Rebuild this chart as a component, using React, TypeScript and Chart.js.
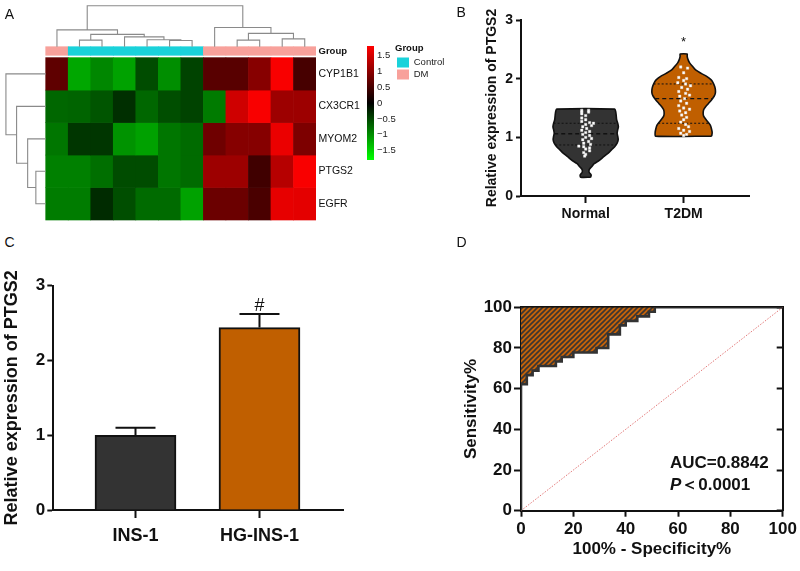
import React, { useEffect, useRef } from 'react';
import { Chart, registerables } from 'chart.js';

Chart.register(...registerables);
const FONT = "'Liberation Sans', Arial, Helvetica, sans-serif";
Chart.defaults.font.family = FONT;
Chart.defaults.color = '#1a1a1a';

/* ---------------- Panel A: heatmap data ---------------- */
const genes = ['CYP1B1', 'CX3CR1', 'MYOM2', 'PTGS2', 'EGFR'];
const sampleGroups = ['DM', 'Control', 'Control', 'Control', 'Control', 'Control', 'Control', 'DM', 'DM', 'DM', 'DM', 'DM'];
const groupNames = ['Control', 'DM'];
const CYP1B1 = [0.67, -1.17, -0.95, -1.14, -0.53, -1.0, -0.47, 0.62, 0.62, 0.95, 1.75, 0.5];
const CX3CR1 = [-0.72, -0.7, -0.6, -0.33, -0.72, -0.55, -0.47, -0.86, 1.45, 1.75, 1.1, 1.1];
const MYOM2 = [-0.83, -0.38, -0.38, -1.03, -1.13, -0.83, -0.75, 0.78, 0.94, 0.94, 1.65, 0.88];
const PTGS2 = [-0.9, -0.9, -0.78, -0.53, -0.53, -0.83, -0.75, 1.1, 1.1, 0.45, 1.28, 1.75];
const EGFR = [-0.87, -0.87, -0.3, -0.55, -0.75, -0.75, -1.14, 0.75, 0.75, 0.52, 1.62, 1.6];
const heatRows = [CYP1B1, CX3CR1, MYOM2, PTGS2, EGFR];
const colorTicks = [-1.5, -1, -0.5, 0, 0.5, 1, 1.5];
const colorLimit = 1.79;
// [childA, childB, height]; leaves first, merged nodes numbered after them
const colLinkage = [
  [5, 6, 1.5], [4, 12, 1.7], [3, 13, 2.4], [1, 2, 1.6], [15, 14, 3.0], [0, 16, 4.1],
  [8, 9, 1.6], [10, 11, 1.9], [18, 19, 3.25], [7, 20, 4.7], [17, 21, 10],
];
const rowLinkage = [[3, 4, 2.4], [2, 5, 4.4], [1, 6, 7.1], [0, 7, 9.7]];

/* ---------------- Panel B: violin data ---------------- */
const violinGroups = ['Normal', 'T2DM'];
const normalLevels = [0.32, 0.36, 0.4, 0.45, 0.5, 0.55, 0.61, 0.67, 0.73, 0.79, 0.84, 0.9, 0.96, 1.02, 1.07, 1.13, 1.18, 1.24, 1.3, 1.38, 1.44, 1.48];
const normalHalf = [0.051, 0.056, 0.036, 0.036, 0.061, 0.087, 0.143, 0.184, 0.23, 0.265, 0.296, 0.321, 0.332, 0.327, 0.321, 0.327, 0.334, 0.327, 0.316, 0.311, 0.306, 0.296];
const t2dmLevels = [1.02, 1.08, 1.13, 1.21, 1.3, 1.36, 1.41, 1.47, 1.52, 1.58, 1.64, 1.7, 1.75, 1.81, 1.87, 1.93, 1.98, 2.04, 2.09, 2.15, 2.21, 2.27, 2.32, 2.38, 2.42];
const t2dmHalf = [0.286, 0.291, 0.286, 0.272, 0.23, 0.204, 0.199, 0.204, 0.224, 0.255, 0.286, 0.311, 0.323, 0.324, 0.316, 0.301, 0.281, 0.235, 0.179, 0.122, 0.09, 0.061, 0.046, 0.036, 0.036];
const normalPoints = [1.46, 1.46, 1.43, 1.43, 1.4, 1.37, 1.33, 1.3, 1.27, 1.25, 1.24, 1.22, 1.2, 1.18, 1.15, 1.12, 1.1, 1.08, 1.05, 1.03, 1.0, 0.98, 0.96, 0.93, 0.9, 0.88, 0.85, 0.84, 0.82, 0.8, 0.77, 0.74, 0.71, 0.68];
const normalJitter = [-0.04, 0.03, -0.04, 0.03, -0.04, 0.0, -0.04, 0.0, -0.04, 0.04, 0.08, 0.0, 0.06, -0.03, 0.01, -0.04, 0.04, 0.0, -0.03, 0.04, 0.0, 0.06, -0.03, 0.03, -0.02, 0.05, -0.07, -0.02, 0.04, 0.0, 0.04, -0.02, 0.0, -0.01];
const t2dmPoints = [2.2, 2.18, 2.1, 2.02, 2.0, 1.97, 1.93, 1.91, 1.88, 1.85, 1.82, 1.78, 1.75, 1.72, 1.7, 1.66, 1.62, 1.58, 1.54, 1.5, 1.48, 1.45, 1.42, 1.38, 1.34, 1.3, 1.26, 1.22, 1.18, 1.15, 1.12, 1.1, 1.07, 1.05, 1.03];
const t2dmJitter = [-0.03, 0.04, 0.0, -0.05, 0.03, 0.0, -0.06, 0.02, 0.07, -0.02, 0.04, -0.05, 0.02, 0.06, -0.04, 0.01, -0.03, 0.03, -0.05, 0.0, 0.06, -0.04, 0.02, -0.02, 0.03, 0.0, -0.03, 0.02, 0.05, -0.05, 0.0, 0.06, -0.03, 0.03, 0.0];
const normalQuartiles = [0.87, 1.06, 1.24];
const normalQuartHalf = [0.311, 0.321, 0.327];
const t2dmQuartiles = [1.24, 1.66, 1.91];
const t2dmQuartHalf = [0.26, 0.29, 0.306];

/* ---------------- Panel C: bar data ---------------- */
const cellLines = ['INS-1', 'HG-INS-1'];
const ptgs2Mean = [1.0, 2.44];
const ptgs2Sd = [0.1, 0.18];

/* ---------------- Panel D: ROC data ---------------- */
const rocFpr = [0, 0, 2.22, 4.44, 6.67, 13.33, 15.56, 20, 28.89, 33.33, 37.78, 40, 44.44, 48.89, 51.11, 55.56, 100];
const rocTpr = [0, 60, 62.22, 66.67, 68.89, 71.11, 73.33, 75.56, 77.78, 80, 86.67, 91.11, 93.33, 95.56, 97.78, 100, 100];
const aucLabel = 'AUC=0.8842';
const pLabel = ['P', '＜0.0001'];

/* ---------------- styling ---------------- */
const DARK = '#333333';
const ORANGE = '#c05f00';
const INK = '#111111';
const groupColors = ['#1ad2da', '#f8a19b'];

type Box = { left: number; top: number; width: number; height: number };

const fitTo = (w?: number, h?: number) => (s: any) => {
  if (w !== undefined) s.width = w;
  if (h !== undefined) s.height = h;
  s.paddingTop = 0; s.paddingBottom = 0; s.paddingLeft = 0; s.paddingRight = 0;
};

function heatColor(v: number) {
  const t = Math.min(Math.abs(v) / colorLimit, 1);
  const c = Math.round(255 * t);
  return v >= 0 ? `rgb(${c},0,0)` : `rgb(0,${c},0)`;
}

function dendro(linkage: number[][], nLeaves: number, leafPos: (i: number) => number, base: number, toPos: (h: number) => number) {
  const pos: number[] = [];
  const hgt: number[] = [];
  for (let i = 0; i < nLeaves; i++) { pos.push(leafPos(i)); hgt.push(base); }
  const pts: number[][] = [];
  linkage.forEach(([a, b, h]) => {
    const hp = toPos(h);
    pts.push([pos[a], hgt[a]], [pos[a], hp], [pos[b], hp], [pos[b], hgt[b]], [NaN, NaN]);
    pos.push((pos[a] + pos[b]) / 2);
    hgt.push(hp);
  });
  return pts;
}

type TextPart = { text: string; font: string };
type TextMark = { x: number; y: number; parts: TextPart[]; align?: string };
function textPlugin(marks: TextMark[]) {
  return {
    id: 'textMarks',
    afterDatasetsDraw(chart: any) {
      const { ctx, scales } = chart;
      ctx.save();
      ctx.fillStyle = INK;
      ctx.textBaseline = 'middle';
      ctx.textAlign = 'left';
      for (const m of marks) {
        let x = scales.x.getPixelForValue(m.x);
        const y = scales.y.getPixelForValue(m.y);
        const widths = m.parts.map((p) => { ctx.font = p.font; return ctx.measureText(p.text).width; });
        const total = widths.reduce((a, b) => a + b, 0);
        if (m.align === 'center') x -= total / 2;
        m.parts.forEach((p, i) => { ctx.font = p.font; ctx.fillText(p.text, x, y); x += widths[i]; });
      }
      ctx.restore();
    },
  };
}

const errorBarPlugin = {
  id: 'errorBars',
  afterDatasetsDraw(chart: any) {
    const { ctx } = chart;
    chart.data.datasets.forEach((ds: any, di: number) => {
      if (!ds.errorPlus) return;
      const meta = chart.getDatasetMeta(di);
      const ys = chart.scales.y;
      meta.data.forEach((el: any, i: number) => {
        const v = ds.data[i].y;
        const y0 = ys.getPixelForValue(v);
        const y1 = ys.getPixelForValue(v + ds.errorPlus[i]);
        ctx.save();
        ctx.strokeStyle = INK;
        ctx.lineWidth = 2;
        ctx.beginPath();
        ctx.moveTo(el.x, y0); ctx.lineTo(el.x, y1);
        ctx.moveTo(el.x - 20, y1); ctx.lineTo(el.x + 20, y1);
        ctx.stroke();
        ctx.restore();
      });
    });
  },
};

function hatchPattern() {
  const c = document.createElement('canvas');
  c.width = 5; c.height = 5;
  const g = c.getContext('2d')!;
  g.fillStyle = '#c4630b';
  g.fillRect(0, 0, 5, 5);
  g.strokeStyle = '#3a3532';
  g.lineWidth = 1.6;
  g.beginPath();
  g.moveTo(0, 5); g.lineTo(5, 0);
  g.moveTo(-1, 1); g.lineTo(1, -1);
  g.moveTo(4, 6); g.lineTo(6, 4);
  g.stroke();
  return g.createPattern(c, 'repeat');
}

const baseOpts = { responsive: false, maintainAspectRatio: false, animation: false, events: [] as string[] };
const noPlugins = { legend: { display: false }, tooltip: { enabled: false } };

/* ---------------- Panel A charts ---------------- */
const HEAT_BOX: Box = { left: 0, top: 0, width: 391, height: 225 };
const CELL_W = 22.53, CELL_H = 32.47, HM_LEFT = 45.7, HM_BOTTOM = 220, HM_RIGHT = 316, DIST_PX = 4.1;
const GROUP_BAR = [(HM_BOTTOM - 55.3) / CELL_H, (HM_BOTTOM - 46.7) / CELL_H];

function makeHeatmap() {
  const nCols = sampleGroups.length;
  const nRows = genes.length;
  const cellSets = heatRows.map((row, r) => ({
    type: 'bar', label: genes[r],
    data: row.map((_v, c) => ({ x: c + 0.5, y: [nRows - 1 - r, nRows - r] })),
    backgroundColor: row.map(heatColor),
    borderWidth: 0, grouped: false, barPercentage: 1, categoryPercentage: 1, order: 3,
  }));
  const groupSet = {
    type: 'bar', label: 'Group',
    data: sampleGroups.map((_g, c) => ({ x: c + 0.5, y: [GROUP_BAR[0], GROUP_BAR[1]] })),
    backgroundColor: sampleGroups.map((g) => groupColors[groupNames.indexOf(g)]),
    borderWidth: 0, grouped: false, barPercentage: 1, categoryPercentage: 1, order: 3,
  };
  const colBase = GROUP_BAR[1];
  const colPts = dendro(colLinkage, nCols, (i) => i + 0.5, colBase, (h) => colBase + (h * DIST_PX) / CELL_H).map(([p, q]) => ({ x: p, y: q }));
  const rowPts = dendro(rowLinkage, nRows, (i) => nRows - 0.5 - i, 0, (h) => -(h * DIST_PX) / CELL_W).map(([p, q]) => ({ x: q, y: p }));
  const lineStyle = { type: 'line', borderColor: '#8a8a8a', borderWidth: 1.1, pointRadius: 0, fill: false, tension: 0, spanGaps: false, order: 1 };
  const tickValues = [...genes.map((_g, r) => nRows - 0.5 - r).reverse(), (GROUP_BAR[0] + GROUP_BAR[1]) / 2];
  const tickLabels = [...genes.slice().reverse(), 'Group'];
  return {
    type: 'bar',
    data: { datasets: [...cellSets, groupSet, { ...lineStyle, label: 'cols', data: colPts }, { ...lineStyle, label: 'rows', data: rowPts }] },
    options: {
      ...baseOpts,
      layout: { padding: 0 },
      plugins: noPlugins,
      scales: {
        x: {
          type: 'linear', display: false, offset: false, grid: { offset: false },
          min: -HM_LEFT / CELL_W, max: nCols,
          afterBuildTicks: (s: any) => { s.ticks = Array.from({ length: nCols + 1 }, (_x, i) => ({ value: i })); },
        },
        y: {
          type: 'linear', position: 'right',
          min: -(HEAT_BOX.height - HM_BOTTOM) / CELL_H, max: HM_BOTTOM / CELL_H,
          afterBuildTicks: (s: any) => { s.ticks = tickValues.map((v) => ({ value: v })); },
          ticks: {
            autoSkip: false, padding: 2.5, color: INK,
            callback: (_v: any, i: number) => tickLabels[i],
            font: (ctx: any) => (ctx.index === nRows ? { size: 9.5, weight: 'bold' } : { size: 10.5 }),
          },
          grid: { display: false, drawTicks: false },
          border: { display: false },
          afterFit: fitTo(HEAT_BOX.width - HM_RIGHT),
        },
      },
    },
  };
}

const CBAR_BOX: Box = { left: 367, top: 46, width: 37, height: 114 };
function makeColorBar() {
  return {
    type: 'bar',
    data: {
      labels: [''],
      datasets: [{
        data: [[-colorLimit, colorLimit]],
        backgroundColor: (c: any) => {
          const a = c.chart.chartArea;
          if (!a) return '#000';
          const g = c.chart.ctx.createLinearGradient(0, a.bottom, 0, a.top);
          g.addColorStop(0, heatColor(-colorLimit));
          g.addColorStop(0.5, heatColor(0));
          g.addColorStop(1, heatColor(colorLimit));
          return g;
        },
        borderWidth: 0, barPercentage: 1, categoryPercentage: 1,
      }],
    },
    options: {
      ...baseOpts,
      layout: { padding: 0 },
      plugins: noPlugins,
      scales: {
        x: { display: false },
        y: {
          position: 'right', min: -colorLimit, max: colorLimit,
          afterBuildTicks: (s: any) => { s.ticks = colorTicks.map((v) => ({ value: v })); },
          ticks: { autoSkip: false, padding: 3, color: '#222', font: { size: 9.5 }, callback: (v: number) => (v < 0 ? '\u2212' + Math.abs(v) : String(v)) },
          grid: { display: false, drawTicks: false },
          border: { display: false },
          afterFit: fitTo(30),
        },
      },
    },
  };
}

const LEGEND_BOX: Box = { left: 394.7, top: 43.3, width: 150, height: 42 };
function makeLegend() {
  return {
    type: 'bar',
    data: { labels: [], datasets: groupNames.map((g, i) => ({ label: g, data: [], backgroundColor: groupColors[i], borderWidth: 0 })) },
    options: {
      ...baseOpts,
      layout: { padding: 0 },
      scales: { x: { display: false }, y: { display: false } },
      plugins: {
        tooltip: { enabled: false },
        legend: {
          display: true, position: 'left', align: 'start',
          title: { display: true, text: 'Group', color: INK, font: { size: 9.5, weight: 'bold' }, padding: { top: 1, bottom: 0 }, position: 'start' },
          labels: { boxWidth: 12, boxHeight: 10, padding: 2, color: '#222', font: { size: 9.5 } },
        },
      },
    },
  };
}

/* ---------------- Panel B: violin ---------------- */
const VIOLIN_BOX: Box = { left: 440, top: 0, width: 360, height: 240 };
function violinOutline(center: number, levels: number[], half: number[]) {
  const right = levels.map((v, i) => ({ x: center + half[i], y: v }));
  const left = levels.map((v, i) => ({ x: center - half[i], y: v })).reverse();
  return [...right, ...left, right[0]];
}
function quartLine(center: number, vals: number[], half: number[], idx: number[]) {
  const pts: any[] = [];
  idx.forEach((k) => { pts.push({ x: center - half[k], y: vals[k] }, { x: center + half[k], y: vals[k] }, { x: NaN, y: NaN }); });
  return pts;
}
function makeViolin() {
  const axisCommon = {
    grid: { drawOnChartArea: false, drawTicks: true, tickColor: INK, tickWidth: 2 },
    border: { display: true, color: INK, width: 2 },
  };
  const pts = [
    ...normalPoints.map((v, i) => ({ x: 1 + normalJitter[i], y: v })),
    ...t2dmPoints.map((v, i) => ({ x: 2 + t2dmJitter[i], y: v })),
  ];
  const dashed = { borderColor: INK, pointRadius: 0, fill: false, tension: 0, spanGaps: false, order: 1 };
  return {
    type: 'line',
    data: {
      datasets: [
        { label: 'points', data: pts, showLine: false, pointStyle: 'rect', pointRadius: 1.7, backgroundColor: '#ffffff', borderColor: '#e8e8e8', borderWidth: 0.4, order: 0 },
        { ...dashed, label: 'median', data: [...quartLine(1, normalQuartiles, normalQuartHalf, [1]), ...quartLine(2, t2dmQuartiles, t2dmQuartHalf, [1])], borderWidth: 1.4, borderDash: [4, 3] },
        { ...dashed, label: 'quartiles', data: [...quartLine(1, normalQuartiles, normalQuartHalf, [0, 2]), ...quartLine(2, t2dmQuartiles, t2dmQuartHalf, [0, 2])], borderWidth: 1, borderDash: [2, 2] },
        { label: violinGroups[0], data: violinOutline(1, normalLevels, normalHalf), fill: 'shape', backgroundColor: DARK, borderColor: INK, borderWidth: 1.6, pointRadius: 0, tension: 0.25, order: 2 },
        { label: violinGroups[1], data: violinOutline(2, t2dmLevels, t2dmHalf), fill: 'shape', backgroundColor: ORANGE, borderColor: INK, borderWidth: 1.6, pointRadius: 0, tension: 0.25, order: 2 },
      ],
    },
    options: {
      ...baseOpts,
      layout: { padding: { left: 43.3, top: 20, right: 50.7, bottom: 0 } },
      plugins: noPlugins,
      scales: {
        x: {
          ...axisCommon, type: 'linear', min: 0.34, max: 2.67,
          grid: { ...axisCommon.grid, tickLength: 7 },
          afterBuildTicks: (s: any) => { s.ticks = violinGroups.map((_g, i) => ({ value: i + 1 })); },
          ticks: { autoSkip: false, maxRotation: 0, padding: 3, color: INK, font: { size: 14, weight: 'bold' }, callback: (v: number) => violinGroups[Math.round(v) - 1] },
          afterFit: fitTo(undefined, 44),
        },
        y: {
          ...axisCommon, type: 'linear', min: 0, max: 3,
          grid: { ...axisCommon.grid, tickLength: 5 },
          ticks: { stepSize: 1, padding: 3, color: INK, font: { size: 14, weight: 'bold' } },
          title: { display: true, text: 'Relative expression of PTGS2', color: INK, font: { size: 14, weight: 'bold' }, padding: 0 },
          afterFit: fitTo(37.7),
        },
      },
    },
    plugins: [textPlugin([{ x: 2, y: 2.62, align: 'center', parts: [{ text: '*', font: `13px ${FONT}` }] }])],
  };
}

/* ---------------- Panel C: bars ---------------- */
const BAR_BOX: Box = { left: 0, top: 265, width: 400, height: 306 };
function makeBars() {
  const axisCommon = {
    grid: { drawOnChartArea: false, drawTicks: true, tickColor: INK, tickWidth: 2 },
    border: { display: true, color: INK, width: 2 },
  };
  return {
    type: 'bar',
    data: {
      datasets: [{
        label: 'PTGS2',
        data: ptgs2Mean.map((v, i) => ({ x: i + 1, y: v })),
        errorPlus: ptgs2Sd,
        backgroundColor: [DARK, ORANGE],
        borderColor: INK, borderWidth: 2, barThickness: 81,
      }],
    },
    options: {
      ...baseOpts,
      layout: { padding: { left: 1.2, top: 20.7, right: 56.7, bottom: 0 } },
      plugins: noPlugins,
      scales: {
        x: {
          ...axisCommon, type: 'linear', min: 0.337, max: 2.676, offset: false,
          grid: { ...axisCommon.grid, tickLength: 8, offset: false },
          afterBuildTicks: (s: any) => { s.ticks = cellLines.map((_g, i) => ({ value: i + 1 })); },
          ticks: { autoSkip: false, maxRotation: 0, padding: 7, color: INK, font: { size: 18, weight: 'bold' }, callback: (v: number) => cellLines[Math.round(v) - 1] },
          afterFit: fitTo(undefined, 61),
        },
        y: {
          ...axisCommon, type: 'linear', min: 0, max: 3,
          grid: { ...axisCommon.grid, tickLength: 6 },
          ticks: { stepSize: 1, padding: 2, color: INK, font: { size: 17, weight: 'bold' } },
          title: { display: true, text: 'Relative expression of PTGS2', color: INK, font: { size: 18, weight: 'bold' }, padding: 0 },
          afterFit: fitTo(52.1),
        },
      },
    },
    plugins: [errorBarPlugin, textPlugin([{ x: 2, y: 2.73, align: 'center', parts: [{ text: '#', font: `18px ${FONT}` }] }])],
  };
}

/* ---------------- Panel D: ROC ---------------- */
const ROC_BOX: Box = { left: 440, top: 280, width: 360, height: 291 };
function makeRoc() {
  const axisCommon = {
    grid: { drawOnChartArea: false, drawTicks: true, tickColor: INK, tickWidth: 2 },
    border: { display: true, color: INK, width: 2 },
  };
  const bold17 = `bold 17px ${FONT}`;
  return {
    type: 'line',
    data: {
      datasets: [
        {
          label: 'ROC', data: rocFpr.map((x, i) => ({ x, y: rocTpr[i] })), stepped: 'after',
          borderColor: DARK, borderWidth: 2.6, pointRadius: 0, fill: 'end', backgroundColor: hatchPattern(), order: 1,
        },
        {
          label: 'ref', data: [{ x: 0, y: 0 }, { x: 100, y: 100 }], borderColor: '#e27878', borderWidth: 1,
          borderDash: [1.5, 1.5], pointRadius: 0, fill: false, order: 2,
        },
      ],
    },
    options: {
      ...baseOpts,
      layout: { padding: { left: 21.5, top: 27.3, right: 17.3, bottom: 11.8 } },
      plugins: noPlugins,
      scales: {
        x: {
          ...axisCommon, type: 'linear', min: 0, max: 100,
          grid: { ...axisCommon.grid, tickLength: 6 },
          ticks: { stepSize: 20, padding: 2, maxRotation: 0, color: INK, font: { size: 17, weight: 'bold' } },
          title: { display: true, text: '100% - Specificity%', color: INK, font: { size: 17, weight: 'bold' }, padding: 0 },
          afterFit: fitTo(undefined, 48.5),
        },
        y: {
          ...axisCommon, type: 'linear', min: 0, max: 100,
          grid: { ...axisCommon.grid, tickLength: 7 },
          ticks: { stepSize: 20, padding: 2, color: INK, font: { size: 17, weight: 'bold' } },
          title: { display: true, text: 'Sensitivity%', color: INK, font: { size: 17, weight: 'bold' }, padding: 0 },
          afterFit: fitTo(59.5),
        },
        x2: {
          type: 'linear', position: 'top', min: 0, max: 100,
          ticks: { display: false }, grid: { display: false, drawTicks: false },
          border: { display: true, color: INK, width: 2 },
          afterFit: fitTo(undefined, 0),
        },
        y2: {
          type: 'linear', position: 'right', min: 0, max: 100,
          ticks: { display: false, stepSize: 20 },
          grid: { display: true, drawOnChartArea: false, drawTicks: true, tickLength: -6, tickColor: INK, tickWidth: 2 },
          border: { display: true, color: INK, width: 2 },
          afterFit: fitTo(0),
        },
      },
    },
    plugins: [textPlugin([
      { x: 56.9, y: 23.3, parts: [{ text: aucLabel, font: bold17 }] },
      { x: 56.9, y: 12.6, parts: [{ text: pLabel[0], font: `italic ${bold17}` }, { text: pLabel[1], font: bold17 }] },
    ])],
  };
}

/* ---------------- React ---------------- */
function ChartCanvas({ box, make }: { box: Box; make: () => any }) {
  const ref = useRef<HTMLCanvasElement>(null);
  useEffect(() => {
    const chart = new Chart(ref.current as HTMLCanvasElement, make());
    return () => chart.destroy();
  }, []);
  return (
    <canvas
      ref={ref}
      width={box.width}
      height={box.height}
      style={{ position: 'absolute', left: box.left, top: box.top, width: box.width, height: box.height }}
    />
  );
}

const panelLetters = [
  { t: 'A', x: 4.8, y: 6.5 },
  { t: 'B', x: 456.5, y: 4.9 },
  { t: 'C', x: 4.5, y: 235 },
  { t: 'D', x: 456.5, y: 235 },
];

export default function App() {
  return (
    <div style={{ position: 'absolute', left: 0, top: 0, width: 800, height: 571, background: '#ffffff', overflow: 'hidden', fontFamily: FONT }}>
      <ChartCanvas box={HEAT_BOX} make={makeHeatmap} />
      <ChartCanvas box={CBAR_BOX} make={makeColorBar} />
      <ChartCanvas box={VIOLIN_BOX} make={makeViolin} />
      <ChartCanvas box={BAR_BOX} make={makeBars} />
      <ChartCanvas box={ROC_BOX} make={makeRoc} />
      <ChartCanvas box={LEGEND_BOX} make={makeLegend} />
      {panelLetters.map((p) => (
        <div key={p.t} style={{ position: 'absolute', left: p.x, top: p.y, fontSize: 14, lineHeight: '14px', color: '#111' }}>{p.t}</div>
      ))}
    </div>
  );
}
